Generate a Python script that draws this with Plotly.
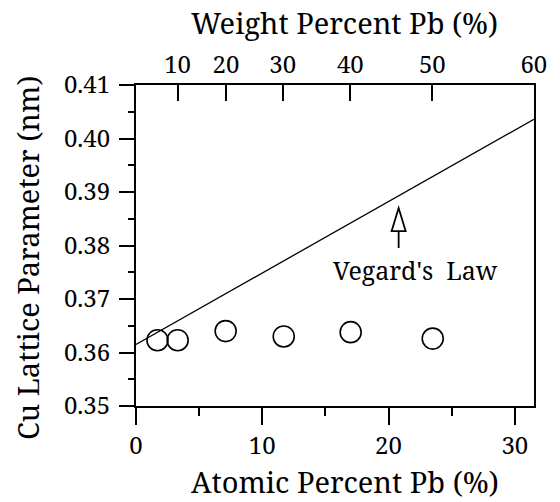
import plotly.graph_objects as go

# Measured Cu lattice parameter vs. Pb content (atomic %)
atomic_pct = [1.7, 3.3, 7.1, 11.7, 17.0, 23.5]
lattice_nm = [0.3623, 0.3623, 0.3640, 0.3630, 0.3638, 0.3626]

# Vegard's law line starting from pure Cu (0.3615 nm)
vegard_x = [0.0, 31.52]
vegard_y = [0.3615, 0.4036]

# Top axis: weight percent Pb, placed at the equivalent atomic percent
weight_ticks = [10, 20, 30, 40, 50, 60]
M_CU, M_PB = 63.55, 207.2


def wt_to_at(w):
    n_pb = w / M_PB
    n_cu = (100 - w) / M_CU
    return 100 * n_pb / (n_pb + n_cu)


top_tickvals = [wt_to_at(w) for w in weight_ticks]

# Label and arrow position for the Vegard's law note
label_x, label_y = 22.1, 0.3755
arrow_x, arrow_tip_y = 20.8, 0.3870

X_RANGE = [0, 31.52]
Y_RANGE = [0.35, 0.41]
FONT = "Noto Serif"
TICK_SIZE = 24
TITLE_SIZE = 29

fig = go.Figure()
fig.add_trace(go.Scatter(
    x=vegard_x, y=vegard_y, mode="lines",
    line=dict(color="black", width=1.3), showlegend=False, hoverinfo="skip",
))
fig.add_trace(go.Scatter(
    x=atomic_pct, y=lattice_nm, mode="markers",
    marker=dict(symbol="circle-open", size=21, color="black",
                line=dict(width=1.6, color="black")),
    showlegend=False,
))
# empty trace bound to the top axis so it is drawn
fig.add_trace(go.Scatter(x=[None], y=[None], xaxis="x2", showlegend=False))

fig.update_layout(
    width=560, height=502,
    margin=dict(l=136, r=26, t=85, b=96),
    paper_bgcolor="white", plot_bgcolor="white",
    font=dict(family=FONT, size=TICK_SIZE, color="black"),
    xaxis=dict(
        range=X_RANGE, tickvals=[0, 10, 20, 30], ticks="outside",
        ticklen=17, tickwidth=2, tickcolor="black",
        minor=dict(tickvals=[5, 15, 25], ticks="outside", ticklen=8,
                   tickwidth=2, tickcolor="black", showgrid=False),
        showline=True, linecolor="black", linewidth=2, mirror=False,
        showgrid=False, zeroline=False,
        tickfont=dict(family=FONT, size=TICK_SIZE),
    ),
    xaxis2=dict(
        range=X_RANGE, overlaying="x", side="top",
        tickvals=top_tickvals, ticktext=[str(w) for w in weight_ticks],
        ticks="inside", ticklen=16, tickwidth=2, tickcolor="black",
        showline=True, linecolor="black", linewidth=2,
        showgrid=False, zeroline=False,
        tickfont=dict(family=FONT, size=TICK_SIZE),
    ),
    yaxis=dict(
        range=Y_RANGE, tickvals=[0.35, 0.36, 0.37, 0.38, 0.39, 0.40, 0.41],
        tickformat=".2f", ticks="outside", ticklen=15, tickwidth=2,
        tickcolor="black",
        minor=dict(dtick=0.005, ticks="outside", ticklen=6, tickwidth=2,
                   tickcolor="black", showgrid=False),
        showline=True, linecolor="black", linewidth=2, mirror=True,
        showgrid=False, zeroline=False, ticklabelstandoff=4,
        tickfont=dict(family=FONT, size=TICK_SIZE),
    ),
    annotations=[
        dict(text="Atomic Percent Pb (%)", xref="paper", yref="paper",
             x=0.525, y=-0.234, showarrow=False, xanchor="center",
             yanchor="middle", font=dict(family=FONT, size=TITLE_SIZE)),
        dict(text="Weight Percent Pb (%)", xref="paper", yref="paper",
             x=0.525, y=1.195, showarrow=False, xanchor="center",
             yanchor="middle", font=dict(family=FONT, size=TITLE_SIZE)),
        dict(text="Cu Lattice Parameter (nm)", xref="paper", yref="paper",
             x=-0.274, y=0.461, showarrow=False, textangle=-90,
             xanchor="center", yanchor="middle",
             font=dict(family=FONT, size=TITLE_SIZE)),
        dict(text="Vegard's\u00a0 Law", xref="x", yref="y",
             x=label_x, y=label_y, showarrow=False, xanchor="center",
             yanchor="middle", font=dict(family=FONT, size=25)),
    ],
    shapes=[
        # open arrowhead pointing up at the Vegard line
        dict(type="path", xref="x", yref="y", xsizemode="pixel",
             ysizemode="pixel", xanchor=arrow_x, yanchor=arrow_tip_y,
             path="M 0 0 L -7 -23 L 7 -23 Z",
             line=dict(color="black", width=1.8), fillcolor="white"),
        dict(type="path", xref="x", yref="y", xsizemode="pixel",
             ysizemode="pixel", xanchor=arrow_x, yanchor=arrow_tip_y,
             path="M 0 -23 L 0 -40",
             line=dict(color="black", width=1.8)),
    ],
)

fig.write_html("out.html")
